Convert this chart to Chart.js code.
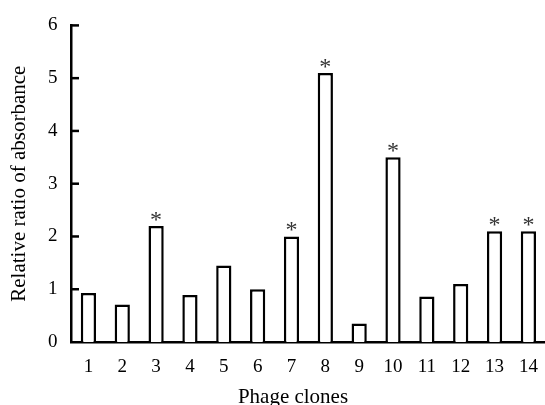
<!DOCTYPE html>
<html>
<head>
<meta charset="utf-8">
<script src="https://cdn.jsdelivr.net/npm/chart.js@4.4.1/dist/chart.umd.min.js"></script>
<style>
  html, body { margin: 0; padding: 0; background: #fff; }
  #wrap { width: 545px; height: 405px; overflow: hidden; }
</style>
</head>
<body>
<div id="wrap"><canvas id="chart" width="552" height="405"></canvas></div>
<script>
// clones 1..14, relative absorbance ratio
const clones = ['1', '2', '3', '4', '5', '6', '7', '8', '9', '10', '11', '12', '13', '14'];
const ratios = [0.93, 0.71, 2.2, 0.89, 1.45, 1.0, 2.0, 5.1, 0.35, 3.5, 0.86, 1.1, 2.1, 2.1];
const marks = ['', '', '*', '', '', '', '*', '*', '', '*', '', '', '*', '*'];
const yTicks = [0, 1, 2, 3, 4, 5, 6];

const serif = '"Liberation Serif", "Times New Roman", serif';

// asterisks over significant bars, inward tick marks, x title
const extras = {
  id: 'extras',
  afterDraw(chart) {
    const { ctx, chartArea } = chart;
    const y = chart.scales.y;
    const bars = chart.getDatasetMeta(0).data;
    ctx.save();

    ctx.strokeStyle = '#000';
    ctx.lineWidth = 2.5;
    yTicks.slice(1).forEach((v) => {
      const py = y.getPixelForValue(v);
      ctx.beginPath();
      ctx.moveTo(chartArea.left, py);
      ctx.lineTo(chartArea.left + 7.5, py);
      ctx.stroke();
    });

    ctx.fillStyle = '#333';
    ctx.font = '24px ' + serif;
    ctx.textAlign = 'center';
    ctx.textBaseline = 'alphabetic';
    bars.forEach((bar, i) => {
      if (marks[i]) ctx.fillText(marks[i], bar.x, bar.y + 1);
    });

    ctx.fillStyle = '#000';
    ctx.font = '21px ' + serif;
    ctx.textBaseline = 'middle';
    ctx.fillText('Phage clones', 293, 397);
    ctx.restore();
  },
};

new Chart(document.getElementById('chart').getContext('2d'), {
  type: 'bar',
  data: {
    labels: clones,
    datasets: [{
      data: ratios,
      backgroundColor: '#fff',
      borderColor: '#000',
      borderWidth: 2.5,
      borderSkipped: 'bottom',
      barPercentage: 0.45,
      categoryPercentage: 1,
    }],
  },
  options: {
    responsive: false,
    animation: false,
    devicePixelRatio: 1,
    layout: { padding: { top: 20, right: 3, bottom: 0, left: 0 } },
    plugins: { legend: { display: false }, tooltip: { enabled: false } },
    scales: {
      x: {
        offset: true,
        grid: { display: false, drawTicks: false },
        border: { display: true, color: '#000', width: 2.5 },
        ticks: { color: '#000', font: { family: serif, size: 19 }, padding: 14, maxRotation: 0 },
        afterFit: (s) => { s.height = 63; },
      },
      y: {
        min: 0,
        max: 6,
        grid: { display: false, drawTicks: false },
        border: { display: true, color: '#000', width: 2.5 },
        ticks: { color: '#000', stepSize: 1, font: { family: serif, size: 19 }, padding: 14 },
        title: {
          display: true,
          text: 'Relative ratio of absorbance',
          color: '#000',
          font: { family: serif, size: 21 },
          padding: { top: 7, bottom: 0 },
        },
        afterFit: (s) => { s.width = 71.5; },
      },
    },
  },
  plugins: [extras],
});
</script>
</body>
</html>
